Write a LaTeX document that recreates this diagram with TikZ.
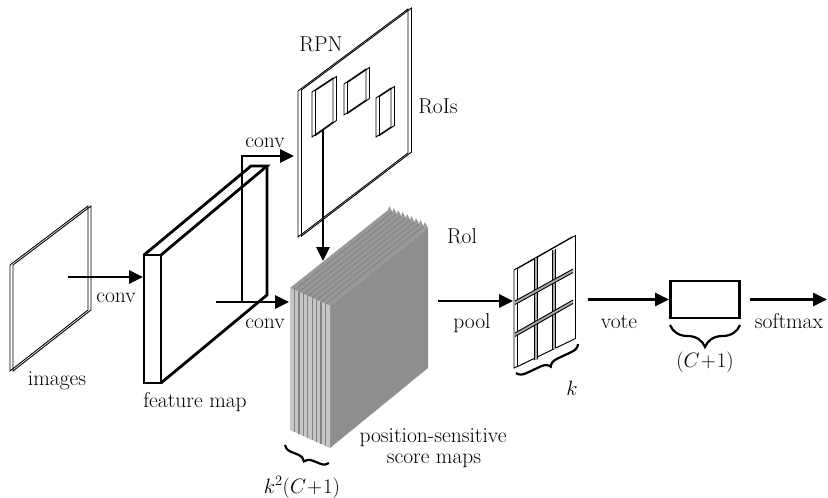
\documentclass[tikz,border=0pt]{standalone}
\usetikzlibrary{arrows.meta,decorations.pathreplacing,calc}
\definecolor{sidegray}{RGB}{142,142,144}
\definecolor{topgray}{RGB}{152,152,154}
\definecolor{frontgray}{RGB}{198,198,198}
\definecolor{stripegray}{RGB}{130,130,132}
\definecolor{bargray}{RGB}{170,170,170}
\begin{document}
\begin{tikzpicture}[x=1pt,y=-1pt,
  font=\fontsize{21.5}{23}\selectfont,
  arr/.style={line width=2.7pt,line join=miter,-{Triangle[length=14pt,width=13pt]}},
  slabline/.style={line width=0.9pt},
  outline/.style={line width=2.8pt,line join=miter},
  lbl/.style={anchor=base,inner sep=0pt},
  brc/.style={decorate,decoration={brace,mirror,amplitude=#1},line width=2.2pt},
]
\useasboundingbox (0,0) rectangle (828,498);

% ---------- images slab ----------
\foreach \dx in {0,3}
  \draw[slabline] (10+\dx,265) -- (88+\dx,206) -- (88+\dx,310) -- (10+\dx,371) -- cycle;
\node[lbl] (limages) at (57,385) {images};

% ---------- feature map ----------
\draw[outline] (144,255) rectangle (161,383);
\draw[outline] (144,255) -- (251,166) -- (267,166) -- (161,255);
\draw[outline] (267,166) -- (267,295) -- (161,383);
\node[lbl] (lfm) at (195,407) {feature map};

% ---------- RPN slab with RoIs ----------
\foreach \dx/\dy in {0/0,3.5/-1}
  \draw[slabline,shift={(\dx,\dy)}] (298,91) -- (408,9) -- (408,153) -- (298,237) -- cycle;
\foreach \dx/\dy in {0/0,3.5/-1.5}{
  \draw[slabline,shift={(\dx,\dy)}] (312,92) -- (333,78) -- (333,122) -- (312,137) -- cycle;
  \draw[slabline,shift={(\dx,\dy)}] (344,84) -- (366,69) -- (366,100) -- (344,115) -- cycle;
  \draw[slabline,shift={(\dx,\dy)}] (376,98) -- (391,88) -- (391,127) -- (376,137) -- cycle;
}
\node[lbl] (lrpn) at (321,51) {RPN};
\node[lbl] (lrois) at (438,113) {RoIs};

% ---------- score map stack ----------
\fill[sidegray] (330,306) -- (428,228) -- (428,368) -- (330,448) -- cycle;
\fill[topgray] (290,288) -- (330,306) -- (428,228) -- (388,210) -- cycle;
\foreach \i in {0,...,8}
  \fill[topgray] ({388+4.444*\i},{210+2*\i}) -- ({388+4.444*\i+1.2},{206+2*\i}) -- ({388+4.444*(\i+1)},{210+2*(\i+1)}) -- cycle;
\foreach \i in {1,...,8}
  \draw[stripegray,line width=0.8pt] ({290+4.444*\i},{288+2*\i}) -- ({388+4.444*\i},{210+2*\i});
\fill[frontgray] (290,288) -- (330,306) -- (330,448) -- (290,430) -- cycle;
\foreach \i in {1,...,8}
  \draw[stripegray,line width=1.4pt] ({290+4.444*\i},{288+2*\i}) -- ({290+4.444*\i},{430+2*\i});
\draw[brc=8pt] (285,445) -- (329,463);
\node[lbl] (lk2) at (302,493) {$k^2(C\!+\!1)$};
\node[lbl] (lroi) at (462,243) {Rol};
\node[lbl] (lpss) at (433,442) {position-sensitive};
\node[lbl] (lsm) at (434,463) {score maps};

% ---------- pooled grid ----------
\foreach \dx/\dy in {0/0,3.5/-1.5}
  \draw[slabline,fill=white,shift={(\dx,\dy)}] (514,270) -- (572,237) -- (572,340) -- (514,368) -- cycle;
\fill[bargray] (534,258) rectangle (537.5,360);
\draw[slabline] (534,258) -- (534,360) (537.5,257) -- (537.5,359);
\fill[bargray] (552,250) rectangle (555.5,349);
\draw[slabline] (552,250) -- (552,349) (555.5,249) -- (555.5,348);
\fill[bargray] (515,301) -- (573,269) -- (573,272.5) -- (515,304.5) -- cycle;
\draw[slabline] (515,301) -- (573,269) (515,304.5) -- (573,272.5);
\fill[bargray] (515,333) -- (573,300) -- (573,303.5) -- (515,336.5) -- cycle;
\draw[slabline] (515,333) -- (573,300) (515,336.5) -- (573,303.5);
\draw[brc=9pt] (516,373) -- (578,344);
\node[lbl] (lk) at (572,395) {$k$};

% ---------- class box ----------
\node[draw,line width=2.8pt,minimum width=69pt,minimum height=37pt,inner sep=0pt] (box) at (705,299.5) {};
\draw[brc=22pt] (670,325) -- (740,325);
\node[lbl] (lc1) at (705,367) {$(C\!+\!1)$};

% ---------- connectors ----------
\coordinate (imgout) at (68,277);
\coordinate (fmin) at (143,277);
\coordinate (fmout) at (216,302);
\coordinate (branch) at (242,302);
\coordinate (branchtop) at (242,156);
\coordinate (rpnin) at (294,156);
\coordinate (stackin) at (289,302);
\coordinate (roi1) at (323,130);
\coordinate (stacktop) at (323,261);
\coordinate (stackout) at (438,301);
\coordinate (gridin) at (513,301);
\coordinate (gridout) at (588,299.5);
\coordinate (smout) at (827,299.5);

\draw[arr] (imgout) -- (fmin);
\draw[arr] (fmout) -- (stackin);
\draw[arr] (branch) -- (branchtop) -- (rpnin);
\draw[arr] (roi1) -- (stacktop);
\draw[arr] (stackout) -- (gridin);
\draw[arr] (gridout) -- (box.west);
\draw[arr] ([xshift=9pt]box.east) -- (smout);

\node[lbl] (lconv1) at (116,302) {conv};
\node[lbl] (lconv2) at (265,147) {conv};
\node[lbl] (lconv3) at (265,328) {conv};
\node[lbl] (lpool) at (472,328) {pool};
\node[lbl] (lvote) at (619,328) {vote};
\node[lbl] (lsoft) at (789,328) {softmax};
\end{tikzpicture}
\end{document}
